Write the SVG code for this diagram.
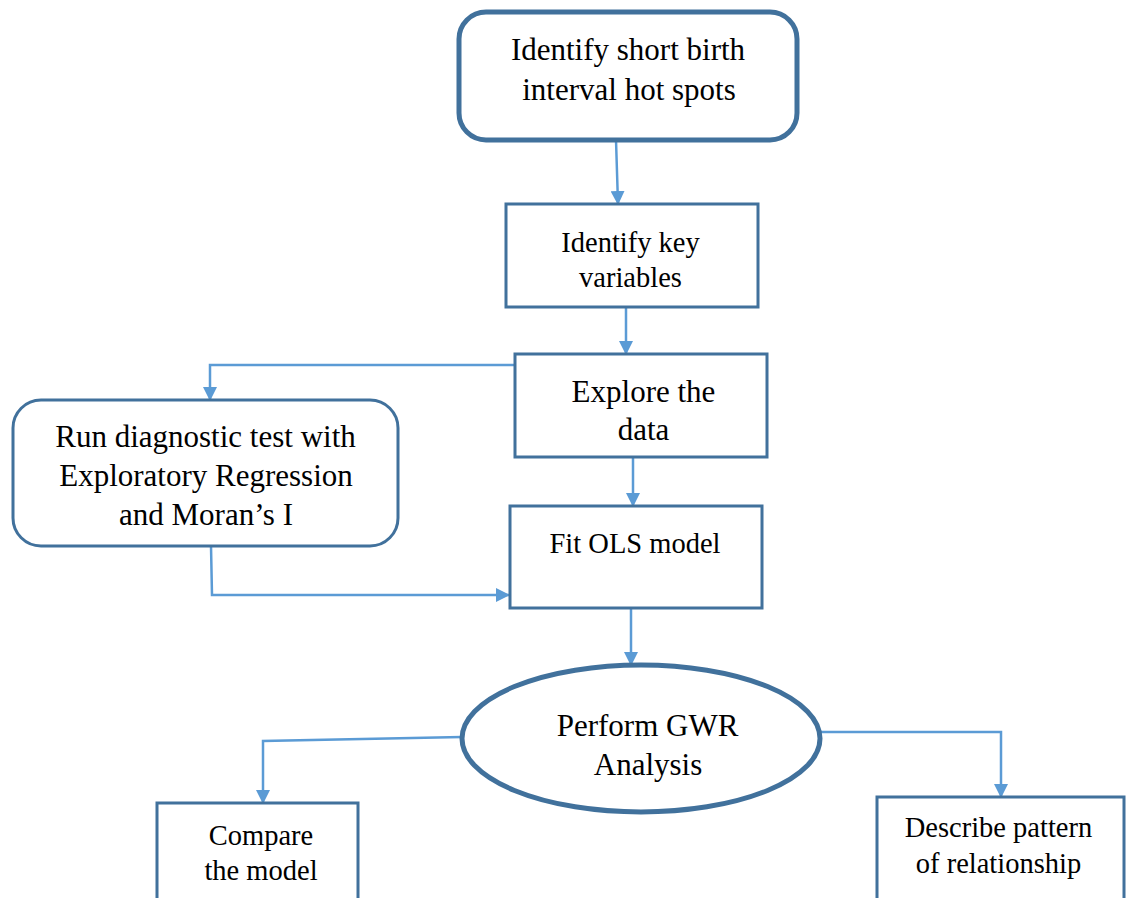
<svg xmlns="http://www.w3.org/2000/svg" width="1128" height="898" viewBox="0 0 1128 898">
<style>
.node{fill:#fff;stroke:#41719c;stroke-width:3}
.thick{stroke-width:5}
.t{font-family:"Liberation Serif","Times New Roman",serif;fill:#000;text-anchor:middle}
.big{font-size:31px}
.sm{font-size:28.5px}
.conn{fill:none;stroke:#5b9bd5;stroke-width:2.5}
</style>
<defs>
<marker id="ah" markerUnits="userSpaceOnUse" markerWidth="14" markerHeight="14" refX="13" refY="7" orient="auto" viewBox="0 0 14 14">
<path d="M0,0 L14,7 L0,14 z" fill="#5b9bd5"/>
</marker>
</defs>
<rect width="1128" height="898" fill="#fff"/>
<g id="connectors">
<path class="conn" d="M616,140 L618,204" marker-end="url(#ah)"/>
<path class="conn" d="M626,307 L626,354" marker-end="url(#ah)"/>
<path class="conn" d="M516,365 L210,365 L210,400" marker-end="url(#ah)"/>
<path class="conn" d="M211,546 L212,595 L509,595" marker-end="url(#ah)"/>
<path class="conn" d="M633,457 L633,506" marker-end="url(#ah)"/>
<path class="conn" d="M631,608 L631,665" marker-end="url(#ah)"/>
<path class="conn" d="M462,737 L263,741 L263,803" marker-end="url(#ah)"/>
<path class="conn" d="M820,732 L1001,732 L1001,797" marker-end="url(#ah)"/>
</g>
<g id="hotspots">
<rect class="node thick" x="459" y="12" width="338" height="128" rx="27"/>
<text class="t big" x="628" y="60">Identify short birth</text>
<text class="t big" x="629" y="100">interval hot spots</text>
</g>
<g id="keyvars">
<rect class="node" x="506" y="204" width="252" height="103"/>
<text class="t sm" x="630.5" y="252">Identify key</text>
<text class="t sm" x="630.5" y="287">variables</text>
</g>
<g id="explore">
<rect class="node" x="515" y="354" width="252" height="103"/>
<text class="t big" x="643.5" y="402">Explore the</text>
<text class="t big" x="643.5" y="440">data</text>
</g>
<g id="diagnostic">
<rect class="node" x="13" y="400" width="385" height="146" rx="28"/>
<text class="t big" x="205.5" y="447">Run diagnostic test with</text>
<text class="t big" x="206" y="486">Exploratory Regression</text>
<text class="t big" x="206" y="525">and Moran’s I</text>
</g>
<g id="ols">
<rect class="node" x="510" y="506" width="252" height="102"/>
<text class="t sm" x="635" y="553">Fit OLS model</text>
</g>
<g id="gwr">
<ellipse class="node thick" cx="641" cy="738.5" rx="179" ry="73.5"/>
<text class="t big" x="647.5" y="736">Perform GWR</text>
<text class="t big" x="648" y="775">Analysis</text>
</g>
<g id="compare">
<rect class="node" x="157" y="803" width="201" height="120"/>
<text class="t sm" x="261" y="845">Compare</text>
<text class="t sm" x="261" y="880">the model</text>
</g>
<g id="describe">
<rect class="node" x="877" y="797" width="247" height="120"/>
<text class="t sm" x="998.5" y="837">Describe pattern</text>
<text class="t sm" x="998.5" y="873">of relationship</text>
</g>
</svg>
